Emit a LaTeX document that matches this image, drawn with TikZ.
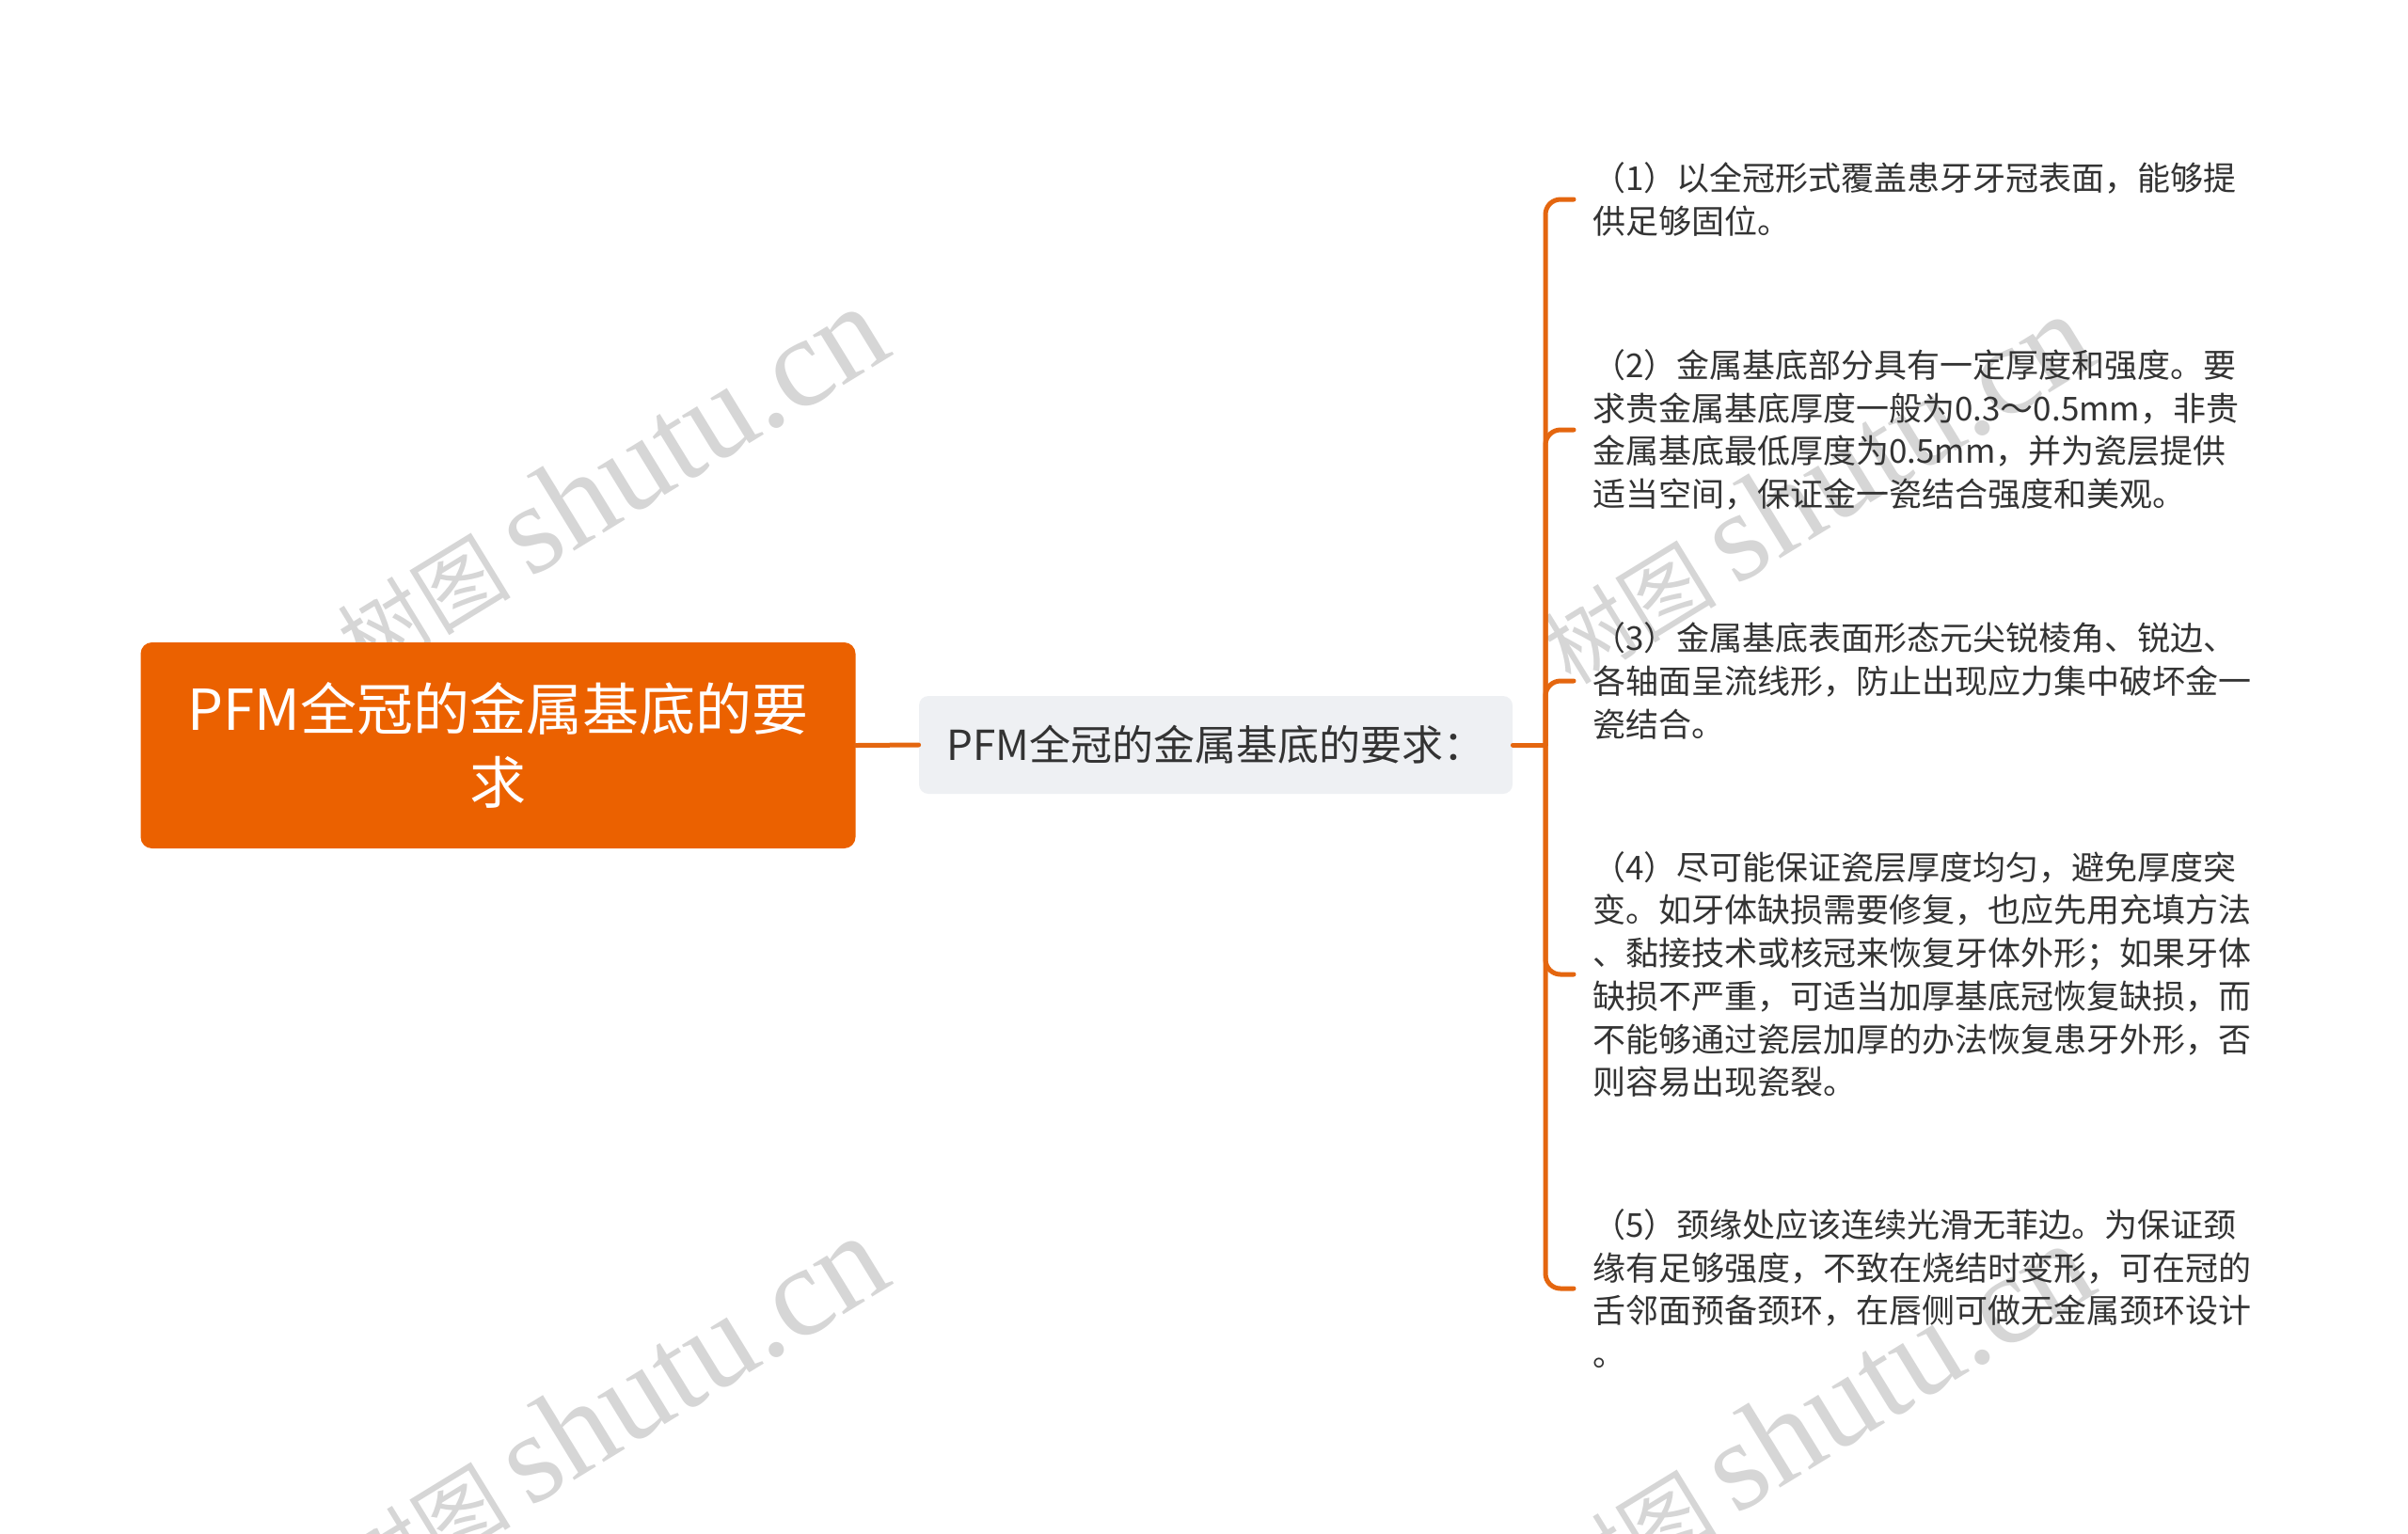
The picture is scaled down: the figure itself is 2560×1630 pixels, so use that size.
\documentclass[tikz,border=0pt]{standalone}
\usepackage{fontspec}
\setmainfont{Noto Sans CJK SC}
\newfontfamily\syfont{Liberation Serif}
\definecolor{zhuse}{HTML}{EB6100}
\definecolor{xian}{HTML}{E4660F}
\definecolor{huidi}{HTML}{EEF0F3}
\definecolor{wenzi}{HTML}{333333}
\definecolor{shuiyin}{HTML}{D6D6D6}
\begin{document}
\begin{tikzpicture}[x=0.5pt,y=-0.5pt, line join = round, line cap = round,
  genbox/.style={fill=zhuse, rounded corners=6pt, text=white, align=center,
    minimum width=380pt, minimum height=109.5pt, font=\fontsize{30}{39}\selectfont},
  zibox/.style={fill=huidi, rounded corners=5pt, text=wenzi,
    minimum width=315.5pt, minimum height=52pt, font=\fontsize{22}{28}\selectfont},
  yebox/.style={anchor=west, inner xsep=10pt, inner ysep=0pt, text=wenzi, align=left,
    font=\fontsize{17.5}{22.85}\selectfont},
  lian/.style={draw=xian, line width=2.5pt},
  syin/.style={text=shuiyin, rotate=31.5, inner sep=0pt}]
\useasboundingbox (0,0) rectangle (2560,1630);
% watermarks
\foreach \sx/\sy [count=\k] in {648/512, 648/1500, 1930/520, 1930/1508}
  \node[syin] (sy\k) at (\sx,\sy) {\fontsize{46}{46}\selectfont 树图\ \syfont\fontsize{68}{68}\selectfont shutu.cn};
% main nodes
\node[genbox] (gen) at (529.5,792.5) {PFM全冠的金属基底的要\\求};
\node[zibox] (zi) at (1292.5,792) {PFM全冠的金属基底的要求：};
\coordinate (hub) at (1643,792);
% leaves
\node[yebox] (t1) at (1673,212) {（1）以全冠形式覆盖患牙牙冠表面，能够提\\供足够固位。};
\node[yebox] (t2) at (1673,457) {（2）金属基底部分具有一定厚度和强度。要\\求贵金属基底厚度一般为0.3～0.5mm，非贵\\金属基底最低厚度为0.5mm，并为瓷层提供\\适当空间，保证金一瓷结合强度和美观。};
\node[yebox] (t3) at (1673,724) {（3）金属基底表面形态元尖锐棱角、锐边、\\各轴面呈流线形，防止出现应力集中破坏金一\\瓷结合。};
\node[yebox] (t4) at (1673,1036) {（4）尽可能保证瓷层厚度均匀，避免厚度突\\变。如牙体缺损需要修复，也应先用充填方法\\、黏接技术或核冠来恢复牙体外形；如果牙体\\缺损不严重，可适当加厚基底冠恢复缺损，而\\不能够通过瓷层加厚的办法恢复患牙外形，否\\则容易出现瓷裂。};
\node[yebox] (t5) at (1673,1370) {（5）颈缘处应该连续光滑无菲边。为保证颈\\缘有足够强度，不致在烧结时变形，可在冠的\\舌邻面预备颈环，在唇侧可做无金属颈环设计\\。};
% connectors
\draw[lian] (gen.east) -- (zi.west);
\draw[lian] (zi.east) -- (hub);
\foreach \t in {t1,t2,t3,t4,t5}
  \draw[lian, rounded corners=8pt] (hub) |- (\t.west);
\end{tikzpicture}
\end{document}
